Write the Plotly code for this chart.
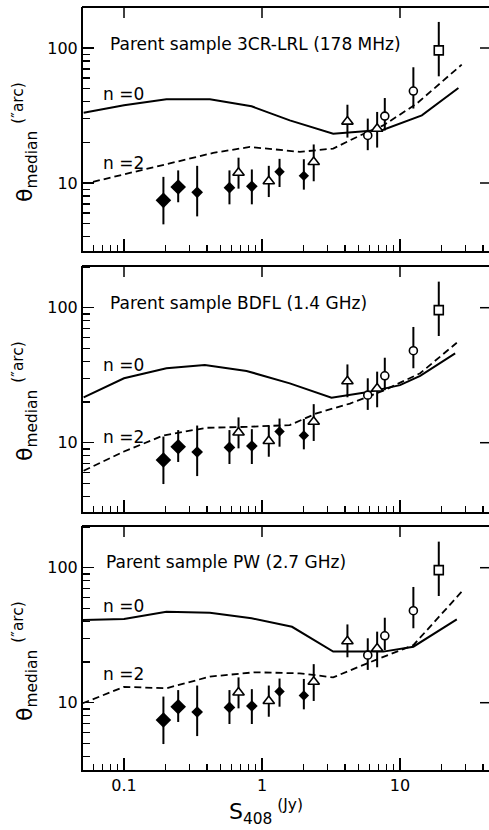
import math
import plotly.graph_objects as go

# ---------------- data ----------------
S_obs = [0.193, 0.247, 0.339, 0.581, 0.676, 0.844, 1.12, 1.34, 2.01, 2.37,
         4.16, 5.84, 6.83, 7.76, 12.5, 19.1]
theta_obs = [7.44, 9.34, 8.53, 9.23, 11.9, 9.45, 10.3, 12.1, 11.3, 14.3,
             28.5, 22.5, 25.2, 31.3, 48.0, 96.0]
theta_hi = [11.1, 12.4, 13.4, 12.4, 15.4, 12.6, 13.4, 15.1, 15.0, 19.3,
            38.0, 30.0, 33.6, 42.6, 72.0, 156.0]
theta_lo = [4.94, 7.2, 5.66, 6.95, 9.08, 6.95, 7.87, 9.34, 8.93, 10.3,
            21.7, 17.5, 18.3, 24.5, 35.6, 61.7]
obs_class = ["big", "big", "small", "small", "tri", "small", "tri", "dot",
             "dot", "tri", "tri", "circ", "tri", "circ", "circ", "sq"]

panel_titles = ["Parent sample 3CR-LRL (178 MHz)",
                "Parent sample BDFL (1.4 GHz)",
                "Parent sample PW (2.7 GHz)"]

p1_n0_S = [0.051, 0.1, 0.203, 0.419, 0.840, 1.59, 3.28, 7.57, 14.4, 26.5]
p1_n0_T = [33.2, 37.6, 41.7, 41.7, 37.0, 29.1, 23.2, 24.8, 31.7, 50.6]
p1_n2_S = [0.0596, 0.203, 0.443, 0.817, 1.88, 3.28, 5.13, 7.57, 13.2, 28.0]
p1_n2_T = [10.2, 13.8, 16.7, 18.5, 17.0, 18.0, 22.5, 26.7, 38.7, 75.3]

p2_n0_S = [0.051, 0.1, 0.203, 0.385, 0.773, 1.59, 3.19, 5.73, 10.0, 14.0, 25.1]
p2_n0_T = [21.7, 30.0, 35.6, 37.6, 34.0, 27.5, 21.5, 23.6, 26.7, 31.3, 45.9]
p2_n2_S = [0.051, 0.1, 0.192, 0.395, 0.773, 1.59, 2.48, 4.34, 7.57, 14.0, 25.8]
p2_n2_T = [6.2, 8.6, 11.3, 12.9, 13.1, 13.5, 16.5, 19.5, 24.3, 32.7, 55.0]

p3_n0_S = [0.050, 0.1, 0.203, 0.419, 0.840, 1.65, 3.28, 7.57, 12.5, 25.8]
p3_n0_T = [41.0, 41.7, 47.2, 46.4, 42.2, 36.5, 23.9, 23.9, 26.0, 41.4]
p3_n2_S = [0.050, 0.1, 0.203, 0.30, 0.419, 0.88, 1.88, 3.28, 5.73, 12.5, 28.0]
p3_n2_T = [9.89, 13.1, 12.8, 14.3, 15.6, 16.8, 16.5, 15.4, 19.5, 26.7, 66.4]

x_major = [0.1, 1, 10]
x_major_text = ["0.1", "1", "10"]
x_minor = [0.06, 0.07, 0.08, 0.09, 0.2, 0.3, 0.4, 0.5, 0.6, 0.7, 0.8, 0.9,
           2, 3, 4, 5, 6, 7, 8, 9, 20, 30, 40]
y_major = [10, 100]
y_major_text = ["10", "100"]
y_minor = [4, 5, 6, 7, 8, 9, 20, 30, 40, 50, 60, 70, 80, 90, 200]

# ---------------- layout geometry ----------------
W, H = 489, 830
FONT = "DejaVu Sans"
X_LEFT_PX = 83
X_RIGHT_PX = 489
X_01_PX, DEC_X = 124, 138.0
DEC_Y = 135.0
x_range = [-1 + (X_LEFT_PX - X_01_PX) / DEC_X, -1 + (X_RIGHT_PX - X_01_PX) / DEC_X]

panel_geom = [  # top px, bottom px, pixel of the 100 tick
    (7, 251, 48.0),
    (266, 512, 307.7),
    (526, 770, 567.7),
]
curves = [
    (p1_n0_S, p1_n0_T, p1_n2_S, p1_n2_T),
    (p2_n0_S, p2_n0_T, p2_n2_S, p2_n2_T),
    (p3_n0_S, p3_n0_T, p3_n2_S, p3_n2_T),
]


def py(p):
    return 1 - p / H


def px(p):
    return p / W


marker_style = {
    "big": dict(symbol="diamond", size=12, color="black"),
    "small": dict(symbol="diamond", size=9, color="black"),
    "dot": dict(symbol="diamond", size=8, color="black"),
    "tri": dict(symbol="triangle-up", size=10, color="white",
                line=dict(color="black", width=1.6)),
    "circ": dict(symbol="circle", size=8, color="white",
                 line=dict(color="black", width=1.6)),
    "sq": dict(symbol="square", size=9, color="white",
               line=dict(color="black", width=1.6)),
}

fig = go.Figure()
layout = dict(
    width=W, height=H,
    margin=dict(l=0, r=0, t=0, b=0),
    paper_bgcolor="white", plot_bgcolor="white",
    showlegend=False,
    font=dict(family=FONT, color="black", size=15),
)
annotations = []
shapes = []
frame = dict(color="black", width=2)
tick = dict(color="black", width=1.5)

for i in range(3):
    a = i + 1
    top, bot, y100 = panel_geom[i]
    y_range = [2 - (bot - y100) / DEC_Y, 2 + (y100 - top) / DEC_Y]
    xid, yid = ("x" if a == 1 else f"x{a}"), ("y" if a == 1 else f"y{a}")
    xk, yk = ("xaxis" if a == 1 else f"xaxis{a}"), ("yaxis" if a == 1 else f"yaxis{a}")
    dom_y = [py(bot), py(top)]
    dom_x = [px(X_LEFT_PX), px(X_RIGHT_PX)]

    layout[xk] = dict(
        type="log", range=x_range, domain=dom_x, anchor=yid,
        showgrid=False, zeroline=False,
        showline=True, linecolor="black", linewidth=2, mirror=False,
        ticks="inside", ticklen=12, tickwidth=1.5, tickcolor="black",
        tickvals=x_major, ticktext=x_major_text,
        showticklabels=(i == 2), tickfont=dict(size=16, family=FONT),
        minor=dict(tickvals=x_minor, ticks="inside", ticklen=6,
                   tickwidth=1.3, tickcolor="black", showgrid=False),
    )
    layout[yk] = dict(
        type="log", range=y_range, domain=dom_y, anchor=xid,
        showgrid=False, zeroline=False,
        showline=True, linecolor="black", linewidth=2, mirror=False,
        ticks="inside", ticklen=11, tickwidth=1.5, tickcolor="black",
        tickvals=y_major, ticktext=y_major_text,
        tickfont=dict(size=16, family=FONT),
        minor=dict(tickvals=y_minor, ticks="inside", ticklen=7,
                   tickwidth=1.3, tickcolor="black", showgrid=False),
    )
    # white strip hiding the stray edge line at the cut-off right side
    shapes.append(dict(type="rect", xref="paper", yref="paper",
                       x0=px(486), x1=1.0, y0=py(bot - 1.5), y1=py(top + 1.5),
                       fillcolor="white", line=dict(width=0), layer="above"))
    # top frame line and its major ticks
    shapes.append(dict(type="line", xref="paper", yref="paper",
                       x0=px(X_LEFT_PX - 1), x1=1.0, y0=py(top), y1=py(top),
                       line=frame))
    for xv in x_major:
        shapes.append(dict(type="line", xref=xid, yref="paper",
                           x0=xv, x1=xv, y0=py(top), y1=py(top + 11),
                           line=tick))
    # right-hand inward ticks (the right frame lies beyond the picture)
    for yv in y_major:
        shapes.append(dict(type="line", xref="paper", yref=yid,
                           x0=px(480), x1=1.0, y0=yv, y1=yv, line=tick))

    n0S, n0T, n2S, n2T = curves[i]
    fig.add_trace(go.Scatter(x=n0S, y=n0T, mode="lines", xaxis=xid, yaxis=yid,
                             line=dict(color="black", width=2)))
    fig.add_trace(go.Scatter(x=n2S, y=n2T, mode="lines", xaxis=xid, yaxis=yid,
                             line=dict(color="black", width=1.8, dash="7px,4px")))

    for cls in ["big", "small", "dot", "tri", "circ", "sq"]:
        idx = [k for k, c in enumerate(obs_class) if c == cls]
        xs = [S_obs[k] for k in idx]
        ys = [theta_obs[k] for k in idx]
        up = [theta_hi[k] - theta_obs[k] for k in idx]
        dn = [theta_obs[k] - theta_lo[k] for k in idx]
        fig.add_trace(go.Scatter(
            x=xs, y=ys, mode="markers", xaxis=xid, yaxis=yid,
            marker=marker_style[cls],
            error_y=dict(type="data", symmetric=False, array=up, arrayminus=dn,
                         color="black", thickness=2, width=0),
        ))

    off = top - 7
    annotations.append(dict(
        text=panel_titles[i], xref="paper", yref="paper",
        x=px(108 if i < 2 else 104), y=py(43.5 + off - (1 if i == 2 else 0)),
        xanchor="left", yanchor="middle", showarrow=False,
        font=dict(size=17, family=FONT)))
    n0_y = [94, 365, 606][i]
    n2_y = [163, 437, 674][i]
    for lab, yy in (("n =0", n0_y), ("n =2", n2_y)):
        annotations.append(dict(
            text=lab, xref="paper", yref="paper", x=px(101), y=py(yy),
            xanchor="left", yanchor="middle", showarrow=False,
            font=dict(size=17, family=FONT)))
    annotations.append(dict(
        text="θ<sub>median</sub> <sup>(″arc)</sup>",
        xref="paper", yref="paper", x=px(25), y=py(142 + (top - 7)),
        xanchor="center", yanchor="middle", textangle=-90, showarrow=False,
        font=dict(size=22, family=FONT)))

annotations.append(dict(
    text="S<sub>408</sub><sup> (Jy)</sup>", xref="paper", yref="paper",
    x=px(266), y=py(812), xanchor="center", yanchor="middle",
    showarrow=False, font=dict(size=22, family=FONT)))

layout["annotations"] = annotations
layout["shapes"] = shapes
fig.update_layout(**layout)
fig.write_html("out.html",
               config={"displayModeBar": False, "staticPlot": True},
               post_script="document.body.style.margin='0px';"
                           "document.body.style.overflow='hidden';")
